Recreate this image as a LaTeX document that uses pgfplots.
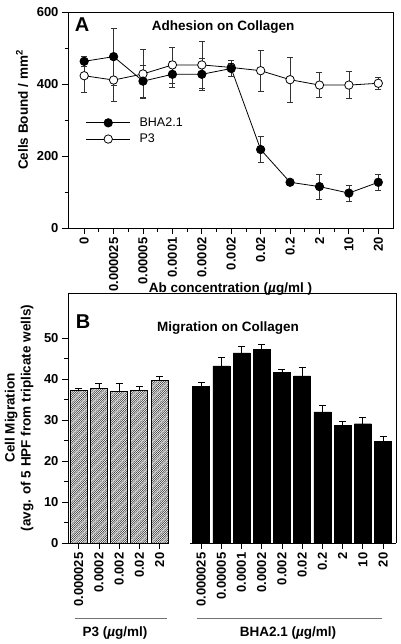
\documentclass[border=0pt]{standalone}
\usepackage{fontspec}
\setmainfont{Liberation Sans}
\usepackage{pgfplots}
\usepackage{pgfplotstable}
\pgfplotsset{compat=1.18}
\usetikzlibrary{patterns}

\pgfdeclarepatternformonly{finehatch}{\pgfqpoint{-1pt}{-1pt}}{\pgfqpoint{3pt}{3pt}}{\pgfqpoint{2.2pt}{2.2pt}}{%
  \pgfsetlinewidth{0.45pt}%
  \pgfpathmoveto{\pgfqpoint{-0.2pt}{-0.2pt}}%
  \pgfpathlineto{\pgfqpoint{2.4pt}{2.4pt}}%
  \pgfusepath{stroke}}

\pgfplotstableread{
x bha bhae p3 p3e
0 463 15 423 45
1 476 80 411 58
2 408 45 428 69
3 427 35 453 50
4 427 45 453 65
5 443 22 446 12
6 218 36 437 57
7 127 8 412 63
8 115 34 397 35
9 97 23 397 38
10 127 23 402 16
}\adhesion

\pgfplotstableread{
x y e
0 37.2 0.5
1 37.8 1.1
2 36.9 2.0
3 37.3 1.0
4 39.7 0.9
}\migp

\pgfplotstableread{
x y e
6.05 38.2 1.1
7.05 43.2 2.1
8.05 46.4 1.5
9.05 47.2 1.3
10.05 41.6 0.8
11.05 40.8 2.0
12.05 32.0 1.6
13.05 28.7 1.0
14.05 29.1 1.6
15.05 24.8 1.1
}\migb

\newcommand{\tfont}{\bfseries\fontsize{13}{15}\selectfont}
\newcommand{\lfont}{\bfseries\fontsize{13.5}{16}\selectfont}

\begin{document}
\begin{tikzpicture}
\pgfplotsset{
  every axis/.append style={
    scale only axis, clip=false,
    tick align=outside, tick pos=left,
    major tick length=6pt, minor tick length=3.5pt,
    every tick/.style={black, line width=0.8pt},
    axis line style={line width=0.8pt},
    tick label style={font=\tfont},
    /pgf/number format/assume math mode=true,
  }
}
% ---------------- Panel A ----------------
\begin{axis}[
  at={(68pt,-228pt)}, anchor=south west,
  width=325pt, height=216pt,
  xmin=-0.55, xmax=10.5, ymin=0, ymax=600,
  xtick={0,1,2,3,4,5,6,7,8,9,10},
  xticklabels={0,0.000025,0.00005,0.0001,0.0002,0.002,0.02,0.2,2,10,20},
  minor x tick num=1,
  ytick={0,200,400,600}, minor y tick num=1,
  xticklabel style={rotate=90, anchor=east},
  xlabel={Ab concentration (\textit{µ}g/ml )},
  xlabel style={font=\lfont, at={(axis description cs:0.5,-0.282)}, anchor=center},
  ylabel={Cells Bound / mm\textsuperscript{2}},
  ylabel style={font=\lfont, at={(axis description cs:-0.1415,0.546)}, anchor=center},
  legend style={draw=none, fill=none, at={(axis description cs:0.045,0.53)}, anchor=north west,
    font=\fontsize{12.5}{14}\selectfont, row sep=2pt,
    /tikz/every odd column/.append style={column sep=7pt}},
  legend cell align=left,
  reverse legend,
  legend image code/.code={\draw[mark repeat=2,mark phase=2,#1] plot coordinates {(0pt,0pt)(22pt,0pt)(44pt,0pt)};},
]
\addplot[black, line width=0.8pt, mark=*, mark size=4.2pt, mark options={fill=white, line width=0.8pt},
  error bars/.cd, y dir=both, y explicit,
  error bar style={line width=0.6pt, black!80},
  error mark options={rotate=90, mark size=3pt, line width=0.6pt, black!80}]
  table[x=x, y=p3, y error=p3e]{\adhesion};
\addlegendentry{P3}
\addplot[black, line width=0.8pt, mark=*, mark size=4.2pt, mark options={fill=black},
  error bars/.cd, y dir=both, y explicit,
  error bar style={line width=0.6pt, black!80},
  error mark options={rotate=90, mark size=3pt, line width=0.6pt, black!80}]
  table[x=x, y=bha, y error=bhae]{\adhesion};
\addlegendentry{BHA2.1}
\node[font=\bfseries\fontsize{20}{22}\selectfont] at (axis description cs:0.043,0.94) {A};
\node[font=\lfont] at (axis description cs:0.477,0.93) {Adhesion on Collagen};
\end{axis}

% ---------------- Panel B ----------------
\begin{axis}[
  at={(68pt,-543pt)}, anchor=south west,
  width=328pt, height=250pt,
  xmin=-0.53, xmax=15.69, ymin=0, ymax=61,
  axis line style={draw=none},
  xtick={0,1,2,3,4,6.05,7.05,8.05,9.05,10.05,11.05,12.05,13.05,14.05,15.05},
  xticklabels={0.000025,0.0002,0.002,0.02,20,0.000025,0.00005,0.0001,0.0002,0.002,0.02,0.2,2,10,20},
  ytick={0,10,20,30,40,50}, minor y tick num=1,
  xticklabel style={rotate=90, anchor=east},
  ylabel={Cell Migration\\(avg. of 5 HPF from triplicate wells)},
  ylabel style={font=\lfont, align=center, at={(axis description cs:-0.149,0.5)}, anchor=center},
]
\addplot[ybar, bar width=17pt, bar shift=0pt, draw=black, line width=0.8pt,
  pattern=finehatch, pattern color=black!80,
  error bars/.cd, y dir=plus, y explicit,
  error bar style={line width=0.8pt, black},
  error mark options={rotate=90, mark size=3.5pt, line width=0.8pt, black}]
  table[x=x, y=y, y error=e]{\migp};
\addplot[ybar, bar width=17pt, bar shift=0pt, draw=black, fill=black, line width=0.4pt,
  error bars/.cd, y dir=plus, y explicit,
  error bar style={line width=0.8pt, black},
  error mark options={rotate=90, mark size=3.5pt, line width=0.8pt, black}]
  table[x=x, y=y, y error=e]{\migb};
% frame with broken bottom axis
\draw[black, line width=0.8pt] (axis cs:-0.53,0) -- (axis cs:-0.53,61) -- (axis cs:15.69,61) -- (axis cs:15.69,0);
\draw[black, line width=0.8pt] (axis cs:-0.53,0) -- (axis cs:4.36,0);
\draw[black, line width=0.8pt] (axis cs:5.5,0) -- (axis cs:15.69,0);
% group labels
\draw[black!55, line width=0.7pt] (axis description cs:0.021,-0.30) -- (axis description cs:0.302,-0.30);
\draw[black!55, line width=0.7pt] (axis description cs:0.393,-0.30) -- (axis description cs:0.957,-0.30);
\node[font=\lfont] at (axis description cs:0.143,-0.36) {P3 (\textit{µ}g/ml)};
\node[font=\lfont] at (axis description cs:0.671,-0.36) {BHA2.1 (\textit{µ}g/ml)};
\node[font=\bfseries\fontsize{20}{22}\selectfont] at (axis description cs:0.046,0.884) {B};
\node[font=\lfont] at (axis description cs:0.488,0.86) {Migration on Collagen};
\end{axis}
\pgfresetboundingbox
\useasboundingbox (0,0) rectangle (400pt,-644pt);
\end{tikzpicture}
\end{document}
